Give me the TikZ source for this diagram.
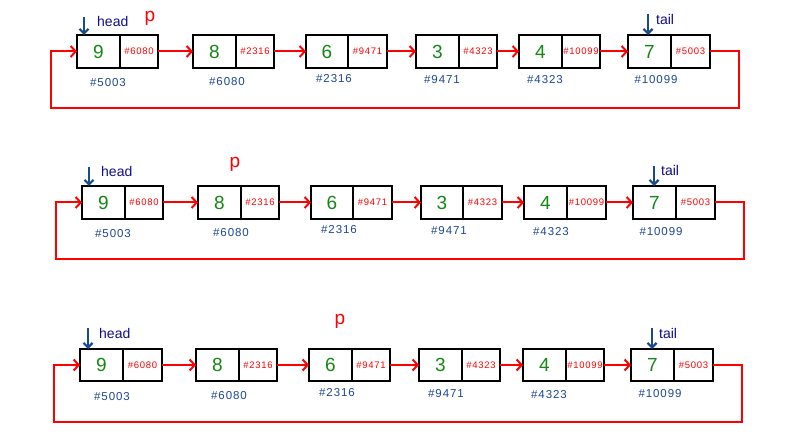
\documentclass[tikz,border=0pt]{standalone}
\usepackage{fontspec}
\setmainfont{Liberation Sans}
\newfontfamily\spacedsans[LetterSpace=8]{Liberation Sans}
\usetikzlibrary{arrows.meta}
\definecolor{datagreen}{RGB}{20,135,20}
\definecolor{addrblue}{RGB}{30,70,150}
\definecolor{labelnavy}{RGB}{15,15,140}
\definecolor{markblue}{RGB}{25,75,140}
\tikzset{
  cellbox/.style={draw=black, line width=1.8pt, inner sep=0pt, outer sep=0pt, anchor=north west},
  datacell/.style={cellbox, text=datagreen, font=\fontsize{19}{19}\selectfont},
  ptrcell/.style={cellbox, text=red, font=\spacedsans\fontsize{9.5}{9.5}\selectfont},
  addr/.style={text=addrblue, font=\spacedsans\fontsize{11.5}{11.5}\selectfont, inner sep=0pt},
  link/.style={draw=red, line width=2pt, -{Straight Barb[length=5pt,width=11pt,line width=2pt]}},
  marker/.style={draw=markblue, line width=2.2pt, -{Straight Barb[length=4.5pt,width=9pt,line width=2.2pt]}},
  marktext/.style={text=labelnavy, font=\fontsize{14}{14}\selectfont, inner sep=0pt},
  ptext/.style={text=red, font=\fontsize{19}{19}\selectfont, inner sep=0pt, anchor=base},
}
% #1 name, #2 left, #3 divider, #4 right, #5 top, #6 bottom, #7 data, #8 pointer
\newcommand\llcell[8]{%
  \node[datacell, minimum width={(#3-#2)*1pt}, minimum height={(#6-#5)*1pt}] (#1d) at (#2,#5) {#7};
  \node[ptrcell, minimum width={(#4-#3)*1pt}, minimum height={(#6-#5)*1pt}] (#1p) at (#3,#5) {#8};
}
\begin{document}
\begin{tikzpicture}[x=1pt,y=-1pt]
\useasboundingbox[fill=white] (0,0) rectangle (798,446);

% ---------------- Row 1 ----------------
\llcell{ra1}{77}{120}{158}{35}{68}{9}{\#6080}
\llcell{ra2}{193}{236}{274}{35}{68}{8}{\#2316}
\llcell{ra3}{306}{348}{387}{35}{68}{6}{\#9471}
\llcell{ra4}{416}{459}{497}{35}{68}{3}{\#4323}
\llcell{ra5}{519}{562}{600}{35}{68}{4}{\#10099}
\llcell{ra6}{628}{671}{710}{35}{68}{7}{\#5003}
\node[addr] (raa1) at (108,83) {\#5003};
\node[addr] (raa2) at (227,82) {\#6080};
\node[addr] (raa3) at (334,79) {\#2316};
\node[addr] (raa4) at (442,80) {\#9471};
\node[addr] (raa5) at (545,80) {\#4323};
\node[addr] (raa6) at (656,80) {\#10099};
\draw[link] (ra1p.east) -- (ra2d.west);
\draw[link] (ra2p.east) -- (ra3d.west);
\draw[link] (ra3p.east) -- (ra4d.west);
\draw[link] (ra4p.east) -- (ra5d.west);
\draw[link] (ra5p.east) -- (ra6d.west);
\coordinate (raR) at (739,108);
\coordinate (raL) at (51,108);
\draw[link] (ra6p.east) -| (raR) -- (raL) |- (ra1d.west);
\coordinate (rah) at (84,17);
\draw[marker] (rah) -- (rah |- ra1d.north);
\node[marktext, anchor=base west] (rahead) at (97,27) {head};
\coordinate (rat) at (648,14);
\draw[marker] (rat) -- (rat |- ra6d.north);
\node[marktext, anchor=base west] (ratail) at (656,25) {tail};
\node[ptext] (rap) at (150,22) {p};

% ---------------- Row 2 ----------------
\llcell{rb1}{82}{125}{163}{186}{219}{9}{\#6080}
\llcell{rb2}{198}{241}{279}{186}{219}{8}{\#2316}
\llcell{rb3}{311}{353}{392}{186}{219}{6}{\#9471}
\llcell{rb4}{421}{463}{502}{186}{219}{3}{\#4323}
\llcell{rb5}{524}{567}{606}{186}{219}{4}{\#10099}
\llcell{rb6}{633}{676}{715}{186}{219}{7}{\#5003}
\node[addr] (rba1) at (113,234) {\#5003};
\node[addr] (rba2) at (231,233) {\#6080};
\node[addr] (rba3) at (339,230) {\#2316};
\node[addr] (rba4) at (449,231) {\#9471};
\node[addr] (rba5) at (551,232) {\#4323};
\node[addr] (rba6) at (661,232) {\#10099};
\draw[link] (rb1p.east) -- (rb2d.west);
\draw[link] (rb2p.east) -- (rb3d.west);
\draw[link] (rb3p.east) -- (rb4d.west);
\draw[link] (rb4p.east) -- (rb5d.west);
\draw[link] (rb5p.east) -- (rb6d.west);
\coordinate (rbR) at (744,259);
\coordinate (rbL) at (56,259);
\draw[link] (rb6p.east) -| (rbR) -- (rbL) |- (rb1d.west);
\coordinate (rbh) at (89,167);
\draw[marker] (rbh) -- (rbh |- rb1d.north);
\node[marktext, anchor=base west] (rbhead) at (101,177) {head};
\coordinate (rbt) at (654,166);
\draw[marker] (rbt) -- (rbt |- rb6d.north);
\node[marktext, anchor=base west] (rbtail) at (661,176) {tail};
\node[ptext] (rbp) at (235,168) {p};

% ---------------- Row 3 ----------------
\llcell{rc1}{80}{123}{162}{349}{381}{9}{\#6080}
\llcell{rc2}{196}{239}{277}{349}{381}{8}{\#2316}
\llcell{rc3}{309}{352}{390}{349}{381}{6}{\#9471}
\llcell{rc4}{419}{462}{500}{349}{381}{3}{\#4323}
\llcell{rc5}{523}{566}{604}{349}{381}{4}{\#10099}
\llcell{rc6}{631}{674}{713}{349}{381}{7}{\#5003}
\node[addr] (rca1) at (112,397) {\#5003};
\node[addr] (rca2) at (229,396) {\#6080};
\node[addr] (rca3) at (337,393) {\#2316};
\node[addr] (rca4) at (446,394) {\#9471};
\node[addr] (rca5) at (549,395) {\#4323};
\node[addr] (rca6) at (660,394) {\#10099};
\draw[link] (rc1p.east) -- (rc2d.west);
\draw[link] (rc2p.east) -- (rc3d.west);
\draw[link] (rc3p.east) -- (rc4d.west);
\draw[link] (rc4p.east) -- (rc5d.west);
\draw[link] (rc5p.east) -- (rc6d.west);
\coordinate (rcR) at (742,422);
\coordinate (rcL) at (54,422);
\draw[link] (rc6p.east) -| (rcR) -- (rcL) |- (rc1d.west);
\coordinate (rch) at (88,328);
\draw[marker] (rch) -- (rch |- rc1d.north);
\node[marktext, anchor=base west] (rchead) at (99,339) {head};
\coordinate (rct) at (652,328);
\draw[marker] (rct) -- (rct |- rc6d.north);
\node[marktext, anchor=base west] (rctail) at (659,338) {tail};
\node[ptext] (rcp) at (340,325) {p};
\end{tikzpicture}
\end{document}
